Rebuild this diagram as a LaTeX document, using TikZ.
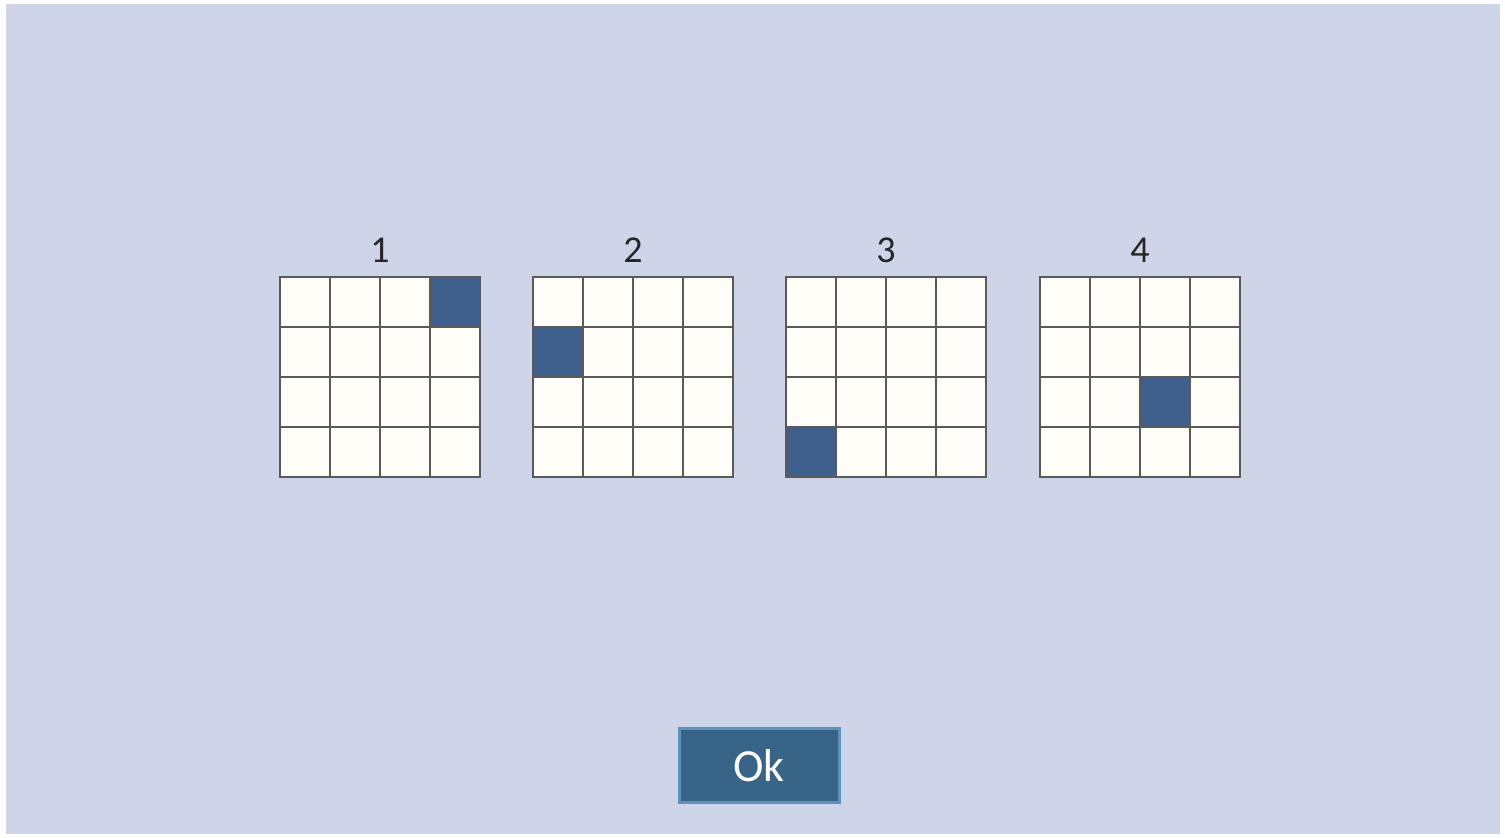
\documentclass[tikz,border=0pt]{standalone}
\usepackage{fontspec}
\setmainfont{Carlito}
\definecolor{panel}{HTML}{CFD5E8}
\definecolor{cellfill}{HTML}{FFFDF8}
\definecolor{marked}{HTML}{3F5F8C}
\definecolor{gridline}{HTML}{5A5A5A}
\definecolor{okfill}{HTML}{376487}
\definecolor{okrim}{HTML}{5B93BC}
\tikzset{
  cell/.style={draw=gridline, line width=0.8pt, fill=cellfill},
  markcell/.style={draw=gridline, line width=0.8pt, fill=marked},
  gridlabel/.style={font=\fontsize{19}{22}\selectfont, text=black!85},
  okbutton/.style={draw=okrim, line width=1.5pt, fill=okfill, text=white,
    minimum width=80pt, minimum height=37pt, inner sep=0pt,
    font=\fontsize{23}{26}\selectfont}
}
\begin{document}
\begin{tikzpicture}[x=0.5pt,y=-0.5pt]
% Frame
\useasboundingbox (0,0) rectangle (1505,838);
\fill[white] (0,0) rectangle (1505,838);
\fill[panel] (6,4) rectangle (1500,834);

% Grids (left edge, marked column, marked row)
\foreach \n/\gx/\mc/\mr in {1/280/3/0, 2/533/0/1, 3/786/0/3, 4/1040/2/2}{
  \foreach \c in {0,...,3}{
    \foreach \r in {0,...,3}{
      \draw[cell] (\gx+50*\c,277+50*\r) rectangle ++(50,50);
    }
  }
  \draw[markcell] (\gx+50*\mc,277+50*\mr) rectangle ++(50,50);
  \node[gridlabel] (label\n) at (\gx+100,250) {\n};
}

% Button
\node[okbutton] (ok) at (759,766) {Ok};
\end{tikzpicture}
\end{document}
